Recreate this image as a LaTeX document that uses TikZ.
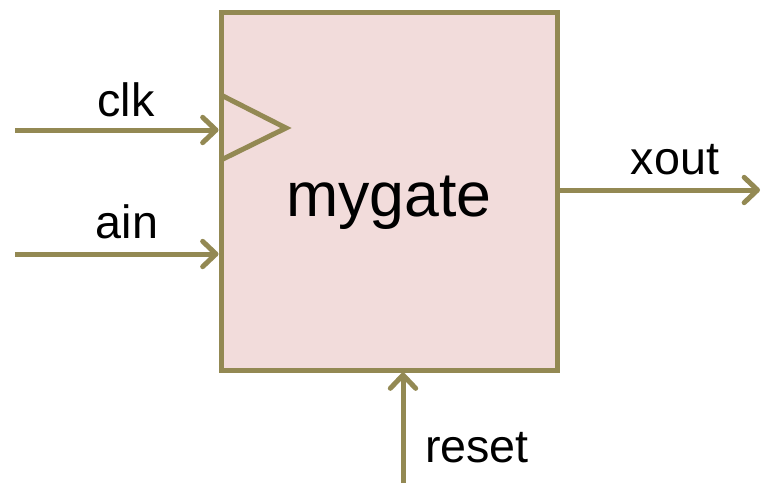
\documentclass[tikz,border=0pt]{standalone}
\usepackage{fontspec}
\setmainfont{Liberation Sans}
\usepackage{tikz}
\usetikzlibrary{arrows.meta,positioning}
\definecolor{olive}{HTML}{938953}
\definecolor{rosefill}{HTML}{F2DCDB}

\begin{document}
\begin{tikzpicture}[
  x=0.75pt, y=-0.75pt,
  block/.style={draw=olive,fill=rosefill,line width=3.75pt,
    minimum width=252pt,minimum height=268.5pt,
    text height=48pt,text depth=10pt,
    font=\fontsize{47}{56}\selectfont},
  wire/.style={draw=olive,line width=3.75pt,
    -{Straight Barb[length=10pt,width=19pt,line join=round,line cap=round]}},
  sig/.style={font=\fontsize{35}{42}\selectfont,inner sep=0pt}
]
  \useasboundingbox (0,0) rectangle (762,483);
  \node[block] (gate) at (389,191) {mygate};
  \draw[olive,line width=3.75pt,line join=miter]
    (221,95) -- (286,128) -- (221,160);
  % free ends of the wires
  \coordinate (clkin) at (15,130);
  \coordinate (ainin) at (15,254);
  \coordinate (xoutend) at (760,190);
  \coordinate (resetin) at (403,483);
  \draw[wire] (clkin) -- (clkin -| gate.west);
  \draw[wire] (ainin) -- (ainin -| gate.west);
  \draw[wire] (xoutend -| gate.east) -- (xoutend);
  \draw[wire] (resetin) -- (resetin |- gate.south);
  \node[sig] (clk) at (126,100) {clk};
  \node[sig] (ain) at (127,222) {ain};
  \node[sig] (xout) at (675,160) {xout};
  \node[sig] (reset) at (477,448) {reset};
\end{tikzpicture}
\end{document}
